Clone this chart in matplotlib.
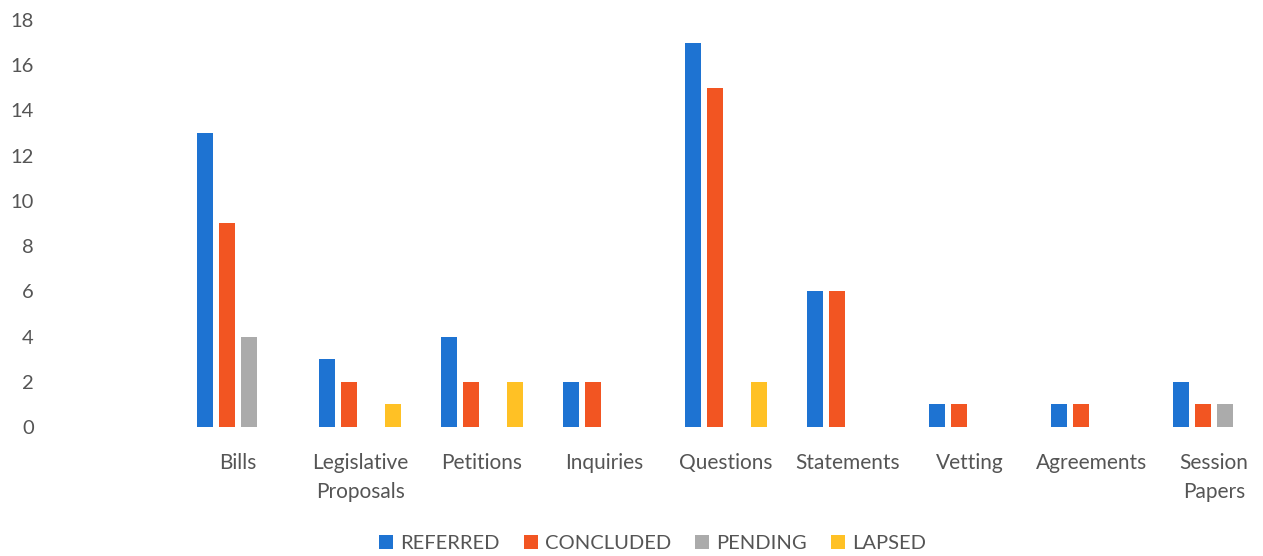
import numpy as np
import matplotlib
matplotlib.use("Agg")
import matplotlib.pyplot as plt

plt.rcParams['font.family'] = ['Lato', 'DejaVu Sans']

categories = ["Bills", "Legislative\nProposals", "Petitions", "Inquiries", "Questions",
              "Statements", "Vetting", "Agreements", "Session\nPapers"]
referred = [13, 3, 4, 2, 17, 6, 1, 1, 2]
concluded = [9, 2, 2, 2, 15, 6, 1, 1, 1]
pending = [4, 0, 0, 0, 0, 0, 0, 0, 1]
lapsed = [0, 1, 2, 0, 2, 0, 0, 0, 0]

series = [("REFERRED", referred, "#1E73D2"),
          ("CONCLUDED", concluded, "#F25522"),
          ("PENDING", pending, "#ABABAB"),
          ("LAPSED", lapsed, "#FFC125")]

text_col = "#555555"

fig = plt.figure(figsize=(12.63, 5.56), dpi=100)
ax = fig.add_axes([0.0333, 0.232, 0.9667, 0.7322])

x = np.arange(len(categories))
step = 0.18
width = 0.135
for k, (name, vals, col) in enumerate(series):
    ax.bar(x + (k - 1.5) * step, vals, width, color=col, label=name, linewidth=0)

ax.set_xlim(-1.607, 8.402)
ax.set_ylim(0, 18)
ax.set_yticks(range(0, 19, 2))
ax.set_xticks(x)
ax.set_xticklabels(categories, fontsize=15, color=text_col, linespacing=1.55)
ax.tick_params(axis='x', length=0, pad=19)
ax.tick_params(axis='y', length=0, pad=6, labelsize=14.5, labelcolor=text_col)
for s in ax.spines.values():
    s.set_visible(False)

leg = ax.legend(loc='upper center', bbox_to_anchor=(0.5, -0.22), ncol=4, frameon=False,
                fontsize=14.5, handlelength=0.7, handleheight=0.7, columnspacing=1.2,
                handletextpad=0.35)
for t in leg.get_texts():
    t.set_color(text_col)

fig.savefig("out.png", dpi=100)
